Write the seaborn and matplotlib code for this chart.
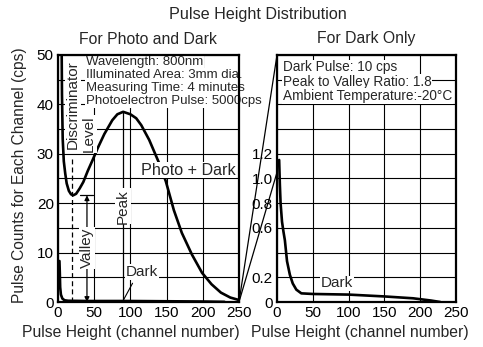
import numpy as np
import matplotlib
matplotlib.use("Agg")
import matplotlib.pyplot as plt
from matplotlib.patches import ConnectionPatch
import seaborn as sns

sns.set_style("white")
plt.rcParams["font.family"] = ["Liberation Sans", "DejaVu Sans"]

# Photo + Dark curve (left panel)
pd_ch = [5, 5.5, 6.5, 8, 10, 12, 15, 18, 21, 25, 30, 35, 41, 48, 55, 64, 75, 82, 90,
         100, 108, 115, 126, 140, 149, 160, 171, 185, 199, 212, 225, 238, 250]
pd_cps = [52, 42, 33, 28.5, 26, 24, 22.5, 21.8, 21.6, 21.9, 23, 24.3, 26.5, 28.8, 31.2, 34, 36.8, 38, 38.5,
          38, 37.2, 35.8, 32.8, 28, 24.4, 18.6, 14, 9.6, 5.9, 3.6, 1.9, 0.9, 0.4]

# Dark curve (left panel)
dk_ch = [2, 2.5, 3, 4, 6, 9, 14, 40, 100, 150, 200, 230]
dk_cps = [8.3, 6, 3, 1.5, 0.7, 0.35, 0.25, 0.2, 0.2, 0.15, 0.1, 0.03]

# Dark curve (right panel, expanded scale)
dr_ch = [3, 4, 5, 7, 9, 11, 14, 18, 22, 27, 34, 50, 100, 150, 190, 215, 228]
dr_cps = [1.15, 0.95, 0.8, 0.65, 0.57, 0.5, 0.33, 0.22, 0.15, 0.1, 0.07, 0.065, 0.06, 0.045, 0.03, 0.012, 0.0]

left_info = ["Wavelength: 800nm", "Illuminated Area: 3mm dia.",
             "Measuring Time: 4 minutes", "Photoelectron Pulse: 5000cps"]
right_info = ["Dark Pulse: 10 cps", "Peak to Valley Ratio: 1.8",
              "Ambient Temperature:-20\u00b0C"]

W, H = 483, 347
fig = plt.figure(figsize=(W / 100, H / 100), dpi=100)
ax1 = fig.add_axes([58 / W, 45 / H, 181 / W, 247 / H])
ax2 = fig.add_axes([277 / W, 45 / H, 179 / W, 247 / H])

wbox = dict(facecolor="white", edgecolor="none", pad=0.6)

# ---- left panel
sns.lineplot(x=pd_ch, y=pd_cps, ax=ax1, color="black", lw=1.9, zorder=3)
sns.lineplot(x=dk_ch, y=dk_cps, ax=ax1, color="black", lw=1.9, zorder=3)
ax1.set_xlim(0, 250)
ax1.set_ylim(0, 50)
ax1.set_xticks(range(0, 251, 50))
ax1.set_yticks(range(0, 51, 5))
ax1.set_yticklabels([str(v) if v % 10 == 0 else "" for v in range(0, 51, 5)])

# discriminator level
ax1.plot([20, 20], [0, 29], color="black", lw=0.9, ls=(0, (4, 2.5)), zorder=2)
ax1.text(20.5, 40, "Discriminator", rotation=90, ha="center", va="center",
         fontsize=11, bbox=wbox, zorder=4)
ax1.text(43, 34, "Level", rotation=90, ha="center", va="center",
         fontsize=11, bbox=wbox, zorder=4)

# valley
ax1.annotate("", xy=(40, 21.6), xytext=(40, 0),
             arrowprops=dict(arrowstyle="<|-|>", color="black", lw=0.9,
                             mutation_scale=7, shrinkA=0, shrinkB=0), zorder=3)
ax1.plot([30, 48], [21.6, 21.6], color="black", lw=0.9, zorder=3)
ax1.text(40, 11, "Valley", rotation=90, ha="center", va="center",
         fontsize=11, bbox=wbox, zorder=4)

# peak
ax1.plot([90, 90], [0, 38.5], color="black", lw=0.9, zorder=3)
ax1.text(90, 19.4, "Peak", rotation=90, ha="center", va="center",
         fontsize=11, bbox=wbox, zorder=4)

ax1.text(180, 26.7, "Photo + Dark", ha="center", va="center",
         fontsize=11.6, bbox=wbox, zorder=4)
ax1.text(116, 6.1, "Dark", ha="center", va="center", fontsize=11, bbox=wbox, zorder=4)
ax1.plot([103, 90], [3.8, 0.3], color="black", lw=0.8, zorder=3)

for i, s in enumerate(left_info):
    ax1.text(39, 48.6 - i * 2.65, s, ha="left", va="center", fontsize=9.5,
             bbox=wbox, zorder=4)

# ---- right panel
sns.lineplot(x=dr_ch, y=dr_cps, ax=ax2, color="black", lw=1.9, zorder=3)
ax2.set_xlim(0, 250)
ax2.set_ylim(0, 2.0)
ax2.set_xticks(range(0, 251, 50))
r_ticks = np.round(np.arange(0, 2.01, 0.2), 1)
ax2.set_yticks(r_ticks)
r_lab = {0.0: "0", 0.2: "0.2", 0.6: "0.6", 0.8: "0.8", 1.0: "1.0", 1.2: "1.2"}
ax2.set_yticklabels([r_lab.get(v, "") for v in r_ticks])
ax2.text(84, 0.15, "Dark", ha="center", va="center", fontsize=11, bbox=wbox, zorder=4)

for i, s in enumerate(right_info):
    ax2.text(8, 1.9 - i * 0.115, s, ha="left", va="center", fontsize=9.8,
             bbox=wbox, zorder=4)

for ax in (ax1, ax2):
    ax.grid(True, color="black", lw=0.8)
    ax.set_axisbelow(True)
    ax.tick_params(length=0, pad=3, labelsize=11, colors="black")
    for sp in ax.spines.values():
        sp.set_visible(True)
        sp.set_color("black")
        sp.set_linewidth(1.6)
        sp.set_zorder(5)
    ax.set_xlabel("Pulse Height (channel number)", fontsize=11.3)

ax1.xaxis.set_label_coords(0.403, -0.095)
ax2.xaxis.set_label_coords(0.464, -0.095)
ax1.set_ylabel("Pulse Counts for Each Channel (cps)", fontsize=11.2)
ax1.yaxis.set_label_coords(-0.17, 0.514)

# magnification lines
for yb in (2.0, 1.05):
    con = ConnectionPatch(xyA=(250, 0), coordsA=ax1.transData,
                          xyB=(0, yb), coordsB=ax2.transData,
                          color="black", lw=0.9)
    fig.add_artist(con)

fig.text(258 / W, 1 - 15 / H, "Pulse Height Distribution", ha="center", va="center", fontsize=11.6)
fig.text(148 / W, 1 - 39 / H, "For Photo and Dark", ha="center", va="center", fontsize=11.3)
fig.text(366 / W, 1 - 39 / H, "For Dark Only", ha="center", va="center", fontsize=11.3)

fig.savefig("out.png", dpi=100, facecolor="white")
